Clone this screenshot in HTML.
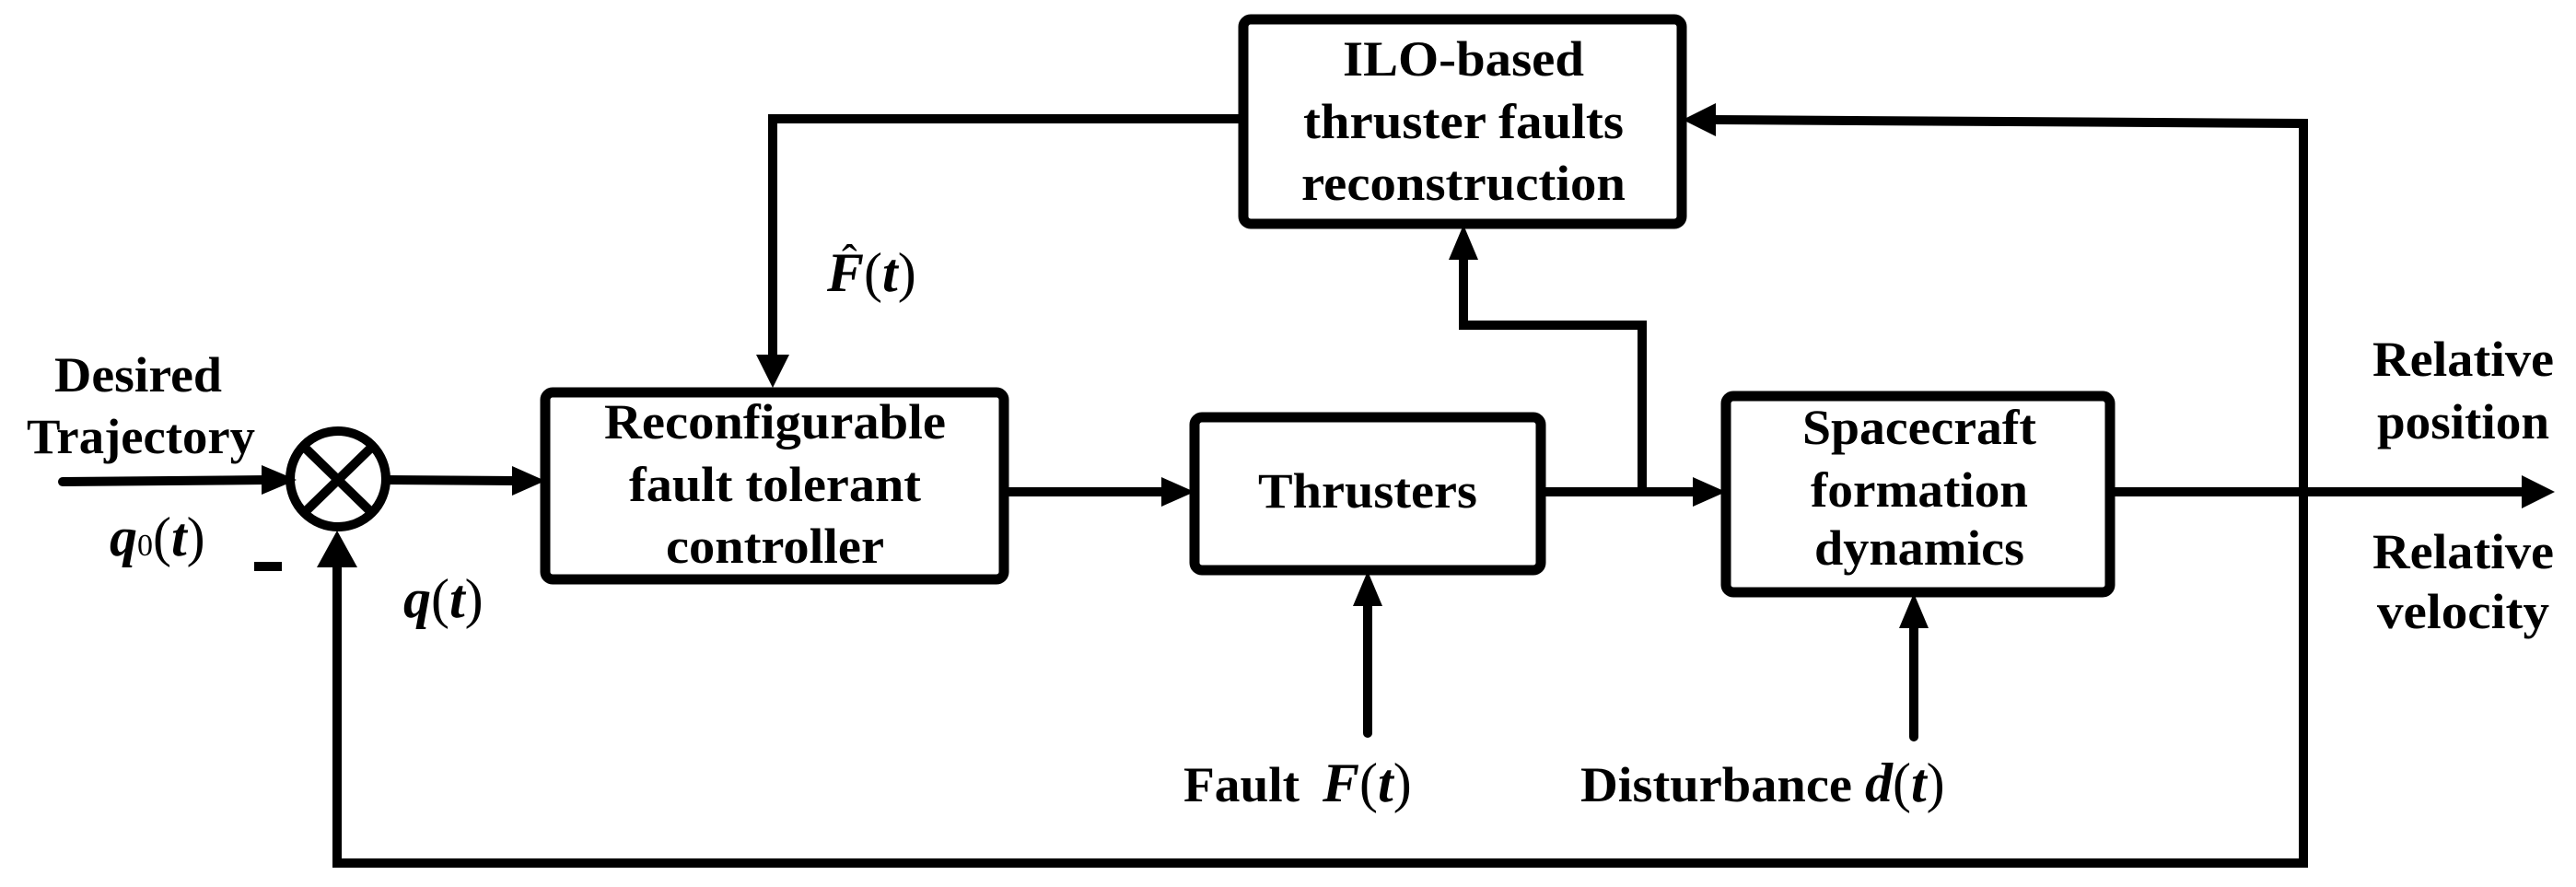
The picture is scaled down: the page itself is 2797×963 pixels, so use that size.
<!DOCTYPE html>
<html><head><meta charset="utf-8"><style>
html,body{margin:0;padding:0;background:#fff;}
svg{display:block;}
text{font-family:"Liberation Serif","Times New Roman",serif;font-weight:bold;fill:#000;}
.m{font-style:italic;}
.p{font-weight:normal;font-style:normal;}
</style></head><body>
<svg width="2797" height="963" viewBox="0 0 2797 963" xmlns="http://www.w3.org/2000/svg">
<g fill="none" stroke="#000" stroke-width="11" stroke-linejoin="round">
<rect x="1350" y="21" width="476" height="222" rx="8"/>
<rect x="592" y="426" width="498" height="203" rx="8"/>
<rect x="1297" y="453" width="376" height="166" rx="8"/>
<rect x="1874" y="430" width="417" height="213" rx="8"/>
<circle cx="367" cy="520" r="52" stroke-width="10"/>
<line x1="331" y1="486" x2="403" y2="556" stroke-width="10"/>
<line x1="403" y1="486" x2="331" y2="556" stroke-width="10"/>
</g>
<g fill="none" stroke="#000" stroke-width="10" stroke-linecap="round" stroke-linejoin="miter">
<polyline points="68,523 290,521"/>
<polyline points="419,521 560,522"/>
<polyline points="1090,534 1265,534"/>
<polyline points="1673,534 1842,534"/>
<polyline points="2291,534 2740,534"/>
<polyline points="1783,534 1783,353 1589,353 1589,280"/>
<polyline points="1350,129 839,129 839,390"/>
<polyline points="2501,534 2501,134 1860,130"/>
<polyline points="2501,534 2501,937 366,937 366,612"/>
<polyline points="1485,796 1485,655"/>
<polyline points="2078,800 2078,680"/>
</g>
<g fill="#000">
<polygon points="322,521 284,505 284,537"/>
<polygon points="592,522 556,506 556,538"/>
<polygon points="1297,534 1261,518 1261,550"/>
<polygon points="1874,534 1838,518 1838,550"/>
<polygon points="2774,534 2738,516 2738,552"/>
<polygon points="1589,244 1573,282 1605,282"/>
<polygon points="839,421 821,385 857,385"/>
<polygon points="1827,130 1863,112 1863,148"/>
<polygon points="366,576 344,616 388,616"/>
<polygon points="1485,620 1469,658 1501,658"/>
<polygon points="2078,644 2062,682 2094,682"/>
<rect x="276" y="610" width="30" height="10"/>
</g>
<g font-size="54">
<text x="1458" y="82" textLength="262" lengthAdjust="spacingAndGlyphs">ILO-based</text>
<text x="1415" y="150" textLength="348" lengthAdjust="spacingAndGlyphs">thruster faults</text>
<text x="1413" y="217" textLength="352" lengthAdjust="spacingAndGlyphs">reconstruction</text>
<text x="656" y="476" textLength="371" lengthAdjust="spacingAndGlyphs">Reconfigurable</text>
<text x="683" y="544" textLength="317" lengthAdjust="spacingAndGlyphs">fault tolerant</text>
<text x="723" y="611" textLength="237" lengthAdjust="spacingAndGlyphs">controller</text>
<text x="1366" y="551" textLength="238" lengthAdjust="spacingAndGlyphs">Thrusters</text>
<text x="1957" y="482" textLength="254" lengthAdjust="spacingAndGlyphs">Spacecraft</text>
<text x="1966" y="550" textLength="236" lengthAdjust="spacingAndGlyphs">formation</text>
<text x="1970" y="613" textLength="228" lengthAdjust="spacingAndGlyphs">dynamics</text>
<text x="2576" y="408" textLength="197" lengthAdjust="spacingAndGlyphs">Relative</text>
<text x="2581" y="476" textLength="187" lengthAdjust="spacingAndGlyphs">position</text>
<text x="2576" y="617" textLength="197" lengthAdjust="spacingAndGlyphs">Relative</text>
<text x="2581" y="682" textLength="187" lengthAdjust="spacingAndGlyphs">velocity</text>
<text x="59" y="425" textLength="182" lengthAdjust="spacingAndGlyphs">Desired</text>
<text x="29" y="492" textLength="248" lengthAdjust="spacingAndGlyphs">Trajectory</text>
<text x="1285" y="870" textLength="126" lengthAdjust="spacingAndGlyphs">Fault</text>
<text x="1716" y="870" textLength="295" lengthAdjust="spacingAndGlyphs">Disturbance</text>
</g>
<g font-size="60">
<text x="119" y="603"><tspan class="m">q</tspan><tspan class="p" font-size="34">0</tspan><tspan class="p">(</tspan><tspan class="m">t</tspan><tspan class="p">)</tspan></text>
<text x="438" y="670"><tspan class="m">q</tspan><tspan class="p">(</tspan><tspan class="m">t</tspan><tspan class="p">)</tspan></text>
<text x="898" y="316"><tspan class="m">F</tspan><tspan class="p">(</tspan><tspan class="m">t</tspan><tspan class="p">)</tspan></text>
<text x="1436" y="870"><tspan class="m">F</tspan><tspan class="p">(</tspan><tspan class="m">t</tspan><tspan class="p">)</tspan></text>
<text x="2025" y="870"><tspan class="m">d</tspan><tspan class="p">(</tspan><tspan class="m">t</tspan><tspan class="p">)</tspan></text>
</g>
<text x="914" y="300" font-size="50" class="p">ˆ</text>
</svg>
</body></html>
